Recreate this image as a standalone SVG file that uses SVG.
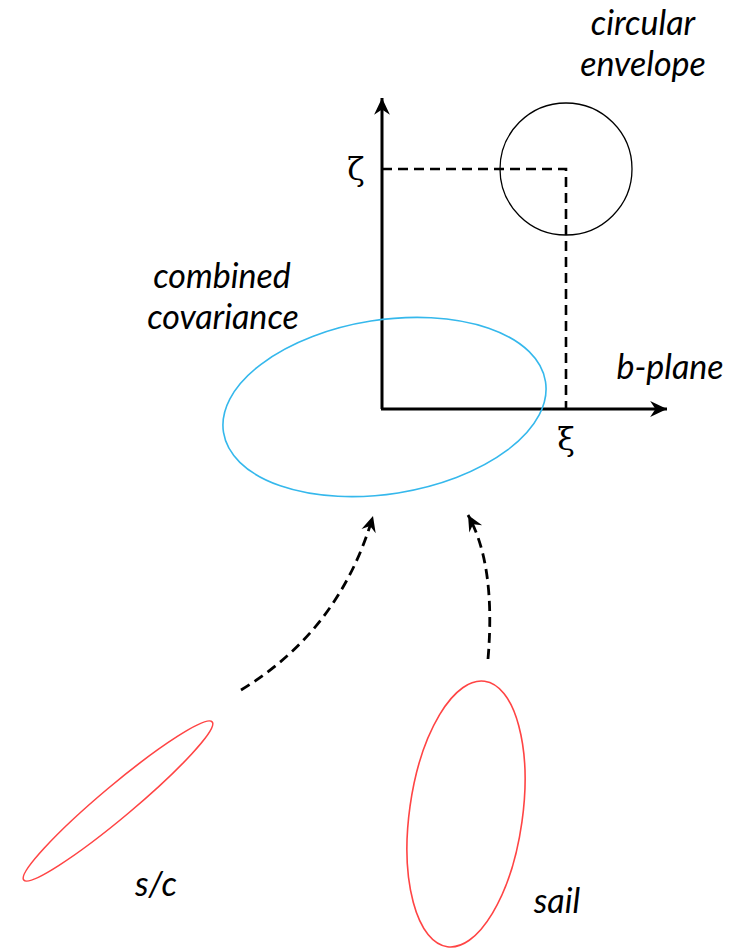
<svg xmlns="http://www.w3.org/2000/svg" width="741" height="948" viewBox="0 0 741 948">
<style>
.lbl{font-family:Lato,"Liberation Sans",sans-serif;font-style:italic;font-size:34px;fill:#000;text-anchor:middle}
.greek{font-family:"DejaVu Serif","Liberation Serif",serif;font-size:32px;fill:#000;text-anchor:middle}
.axis{stroke:#000;stroke-width:3;fill:none}
.guide{stroke:#000;stroke-width:2.6;fill:none;stroke-dasharray:10 6}
.flow{stroke:#000;stroke-width:2.8;fill:none;stroke-dasharray:10 6}
.red{stroke:#F44;stroke-width:1.6;fill:none}
.blue{stroke:#35B8EC;stroke-width:1.6;fill:none}
</style>
<defs>
<marker id="head" markerUnits="userSpaceOnUse" markerWidth="20" markerHeight="20" viewBox="-17 -9 19 18" refX="0" refY="0" orient="auto">
<path d="M0,0 L-16,-7.5 L-11,0 L-16,7.5 Z" fill="#000"/>
</marker>
<marker id="head2" markerUnits="userSpaceOnUse" markerWidth="20" markerHeight="20" viewBox="-17 -9 19 18" refX="0" refY="0" orient="auto">
<path d="M0,0 L-15,-7 L-10,0 L-15,7 Z" fill="#000"/>
</marker>
</defs>
<rect width="741" height="948" fill="#fff"/>
<g id="connectors">
<path class="axis" d="M382,409 L382,98" marker-end="url(#head)"/>
<path class="axis" d="M381,409 L667,409" marker-end="url(#head)"/>
<path class="guide" d="M382,169 L566,169 L566,409"/>
<path class="flow" d="M241,690 Q340,630 373,516" marker-end="url(#head2)"/>
<path class="flow" d="M488,659 Q496,565 468,515" marker-end="url(#head2)"/>
</g>
<g id="circular-envelope">
<circle cx="566" cy="169" r="66" fill="none" stroke="#000" stroke-width="1.3"/>
<text class="lbl" x="643" y="35">circular</text>
<text class="lbl" x="643" y="76">envelope</text>
</g>
<g id="combined-covariance">
<ellipse class="blue" cx="384.5" cy="407" rx="163" ry="87" transform="rotate(-9 384.5 407)"/>
<text class="lbl" x="222" y="288">combined</text>
<text class="lbl" x="223" y="329">covariance</text>
</g>
<g id="b-plane">
<text class="lbl" x="670" y="379">b-plane</text>
<text class="greek" x="356" y="180">ζ</text>
<text class="greek" x="566" y="450">ξ</text>
</g>
<g id="sc">
<ellipse class="red" cx="118" cy="801" rx="123" ry="16" transform="rotate(-40 118 801)"/>
<text class="lbl" x="156" y="896">s/c</text>
</g>
<g id="sail">
<ellipse class="red" cx="466" cy="814" rx="56.5" ry="134" transform="rotate(8 466 814)"/>
<text class="lbl" x="557" y="913">sail</text>
</g>
</svg>
